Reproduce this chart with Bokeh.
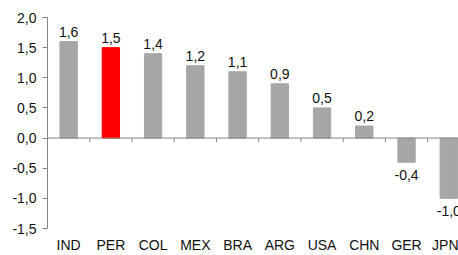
from bokeh.plotting import figure
from bokeh.models import Range1d, FixedTicker, Span, ColumnDataSource
from bokeh.core.properties import value
from bokeh.embed import file_html
from bokeh.resources import INLINE

countries = ["IND", "PER", "COL", "MEX", "BRA", "ARG", "USA", "CHN", "GER", "JPN"]
values = [1.6, 1.5, 1.4, 1.2, 1.1, 0.9, 0.5, 0.2, -0.4, -1.0]
highlight = "PER"
y_ticks = [-1.5, -1.0, -0.5, 0.0, 0.5, 1.0, 1.5, 2.0]
y_min, y_max = -1.5, 2.0

GRAY = "#A6A6A6"
RED = "#FF0000"
AXIS = "#868686"
TEXT = "#111111"
FONT = "Liberation Sans"
FS = "14px"

n = len(countries)
xs = [i + 0.5 for i in range(n)]
colors = [RED if c == highlight else GRAY for c in countries]
labels = [f"{v:.1f}".replace(".", ",") for v in values]

p = figure(width=458, height=255, output_backend="svg", toolbar_location=None,
           x_range=Range1d(0, 9.73), y_range=Range1d(y_min, y_max),
           min_border_left=47, min_border_right=0, min_border_top=17, min_border_bottom=25)
p.grid.visible = False
p.outline_line_color = None
p.background_fill_color = "white"
p.border_fill_color = "white"

src = ColumnDataSource(dict(x=xs, top=values, color=colors, label=labels))
p.vbar(x="x", top="top", bottom=0, width=0.41, color="color", source=src)

# zero line with category tick marks
p.add_layout(Span(location=0, dimension="width", line_color=AXIS, line_width=1))
bx = [float(i) for i in range(1, n)]
p.segment(x0=bx, x1=bx, y0=[0.0] * len(bx), y1=[-0.07] * len(bx), line_color=AXIS, line_width=1)

pos = [i for i, v in enumerate(values) if v >= 0]
neg = [i for i, v in enumerate(values) if v < 0]
p.text(x=[xs[i] for i in pos], y=[values[i] for i in pos], text=[labels[i] for i in pos],
       text_align="center", text_baseline="bottom", y_offset=-5,
       text_font=value(FONT), text_font_size=FS, text_color=TEXT)
p.text(x=[xs[i] for i in neg], y=[values[i] for i in neg], text=[labels[i] for i in neg],
       text_align="center", text_baseline="top", y_offset=8,
       text_font=value(FONT), text_font_size=FS, text_color=TEXT)

# x axis: labels only
xa = p.xaxis[0]
xa.ticker = FixedTicker(ticks=xs)
xa.major_label_overrides = {x: c for x, c in zip(xs, countries)}
xa.axis_line_color = None
xa.major_tick_line_color = None
xa.minor_tick_line_color = None
xa.major_tick_out = 0
xa.major_tick_in = 0
xa.minor_tick_out = 0
xa.minor_tick_in = 0
xa.major_label_standoff = 8
xa.major_label_text_font = FONT
xa.major_label_text_font_size = FS
xa.major_label_text_color = TEXT

# y axis
ya = p.yaxis[0]
ya.ticker = FixedTicker(ticks=y_ticks)
ya.major_label_overrides = {t: f"{t:.1f}".replace(".", ",") for t in y_ticks}
ya.axis_line_color = AXIS
ya.major_tick_line_color = AXIS
ya.major_tick_out = 5
ya.major_tick_in = 0
ya.minor_tick_line_color = None
ya.minor_tick_out = 0
ya.minor_tick_in = 0
ya.major_label_standoff = 6
ya.major_label_text_font = FONT
ya.major_label_text_font_size = FS
ya.major_label_text_color = TEXT

open("out.html", "w").write(file_html(p, INLINE))
